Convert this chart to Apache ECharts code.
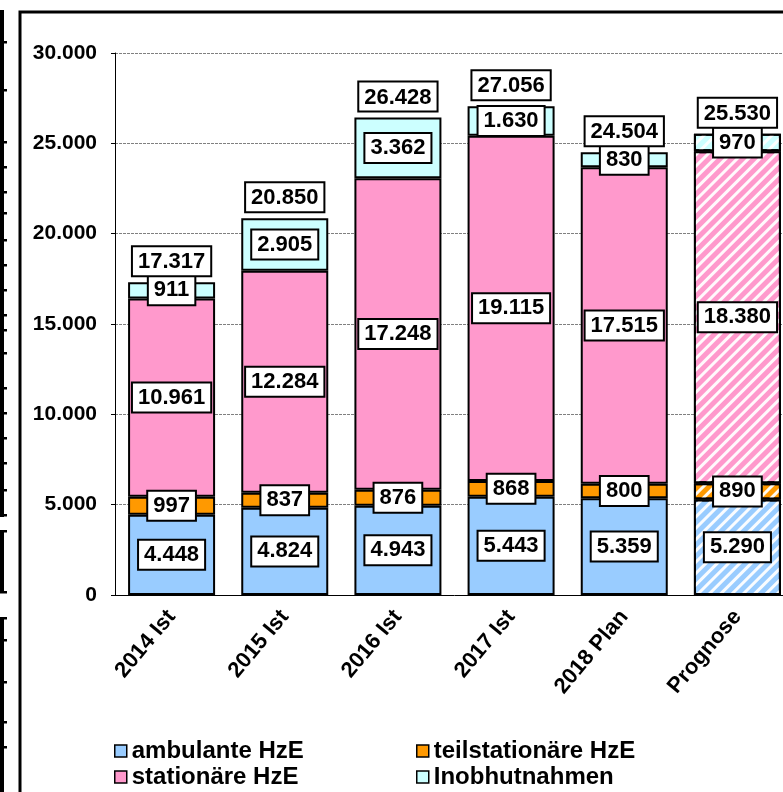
<!DOCTYPE html>
<html>
<head>
<meta charset="utf-8">
<script src="https://cdn.jsdelivr.net/npm/echarts@6/dist/echarts.min.js"></script>
<style>html,body{margin:0;padding:0;background:#fff;overflow:hidden;width:783px;height:792px;}#c{width:800px;height:792px;}</style>
</head>
<body>
<div id="c"></div>
<script>
const categories = ['2014 Ist', '2015 Ist', '2016 Ist', '2017 Ist', '2018 Plan', 'Prognose'];
const ambulante = [4448, 4824, 4943, 5443, 5359, 5290];
const teilstationaer = [997, 837, 876, 868, 800, 890];
const stationaer = [10961, 12284, 17248, 19115, 17515, 18380];
const inobhut = [911, 2905, 3362, 1630, 830, 970];
const totals = [17317, 20850, 26428, 27056, 24504, 25530];
const seriesNames = ['ambulante HzE', 'teilstationäre HzE', 'stationäre HzE', 'Inobhutnahmen'];
const seriesColors = ['#99CCFF', '#FF9900', '#FF99CC', '#CCFFFF'];
const prognoseIndex = 5;

function fmt(v) {
  return String(Math.round(v)).replace(/\B(?=(\d{3})+(?!\d))/g, '.');
}

const FONT = 'Liberation Sans, Arial, sans-serif';

const labelStyle = {
  show: true,
  position: 'inside',
  color: '#000',
  fontFamily: FONT,
  fontWeight: 'bold',
  fontSize: 22,
  backgroundColor: '#fff',
  borderColor: '#000',
  borderWidth: 2,
  padding: [4, 5, 2, 5],
  formatter: p => fmt(p.value)
};

function mkData(arr) {
  return arr.map((v, i) => i === prognoseIndex ? {
    value: v,
    itemStyle: {
      decal: {
        symbol: 'rect',
        symbolSize: 1,
        color: 'rgba(255,255,255,0.95)',
        dashArrayX: [1, 0],
        dashArrayY: [3, 5],
        rotation: -Math.PI / 4
      }
    }
  } : v);
}

const dataSets = [ambulante, teilstationaer, stationaer, inobhut];
const series = dataSets.map((arr, k) => ({
  name: seriesNames[k],
  type: 'bar',
  stack: 'total',
  barWidth: 87,
  data: mkData(arr),
  itemStyle: { color: seriesColors[k], borderColor: '#000', borderWidth: 2 },
  label: labelStyle,
  emphasis: { disabled: true }
}));
series.push({
  name: 'Summe',
  type: 'bar',
  stack: 'total',
  barWidth: 87,
  data: totals.map(() => 0),
  itemStyle: { color: 'rgba(0,0,0,0)', borderWidth: 0 },
  label: Object.assign({}, labelStyle, {
    position: 'top',
    distance: 7,
    formatter: p => fmt(totals[p.dataIndex])
  }),
  emphasis: { disabled: true }
});

// decorative left-edge fragment and frame
const deco = [];
deco.push({ type: 'rect', shape: { x: 20, y: 12, width: 820, height: 820 }, style: { fill: 'none', stroke: '#000', lineWidth: 3 }, silent: true });
[[10, 517], [530, 593], [617, 800]].forEach(s => {
  deco.push({ type: 'rect', shape: { x: 0, y: s[0], width: 4, height: s[1] - s[0] }, style: { fill: '#000' }, silent: true });
});
[42, 90, 142, 167, 192, 213, 240, 265, 290, 315, 330, 353, 388, 413, 438, 463, 490, 515, 531, 592, 618, 640, 682, 722, 747].forEach(y => {
  deco.push({ type: 'rect', shape: { x: 0, y: y - 1, width: 7, height: 2.5 }, style: { fill: '#000' }, silent: true });
});

function legendItem(name, left, top) {
  return {
    data: [name],
    orient: 'horizontal', left: left, top: top,
    itemWidth: 12, itemHeight: 12, icon: 'rect',
    itemStyle: { borderColor: '#000', borderWidth: 1.5 },
    textStyle: { color: '#000', fontFamily: FONT, fontWeight: 'bold', fontSize: 24 },
    selectedMode: false, padding: 0
  };
}

const chart = echarts.init(document.getElementById('c'));
chart.setOption({
  animation: false,
  backgroundColor: '#fff',
  graphic: deco,
  grid: { left: 115, top: 53, width: 679, bottom: 197, containLabel: false },
  legend: [
    legendItem(seriesNames[0], 114, 739),
    legendItem(seriesNames[2], 114, 765),
    legendItem(seriesNames[1], 416, 739),
    legendItem(seriesNames[3], 416, 765)
  ],
  xAxis: {
    type: 'category',
    data: categories,
    axisLine: { lineStyle: { color: '#000', width: 1 } },
    axisTick: { show: false },
    axisLabel: { rotate: 50, margin: 18, color: '#000', fontFamily: FONT, fontWeight: 'bold', fontSize: 22, interval: 0 }
  },
  yAxis: {
    type: 'value',
    min: 0, max: 30000, interval: 5000,
    axisLine: { show: true, lineStyle: { color: '#000', width: 1 } },
    axisTick: { show: true, length: 4, lineStyle: { color: '#000' } },
    splitLine: { lineStyle: { color: '#808080', type: [3, 1], width: 1 } },
    axisLabel: { margin: 18, color: '#000', fontFamily: FONT, fontWeight: 'bold', fontSize: 21, formatter: v => fmt(v) }
  },
  series: series
});
</script>
</body>
</html>
